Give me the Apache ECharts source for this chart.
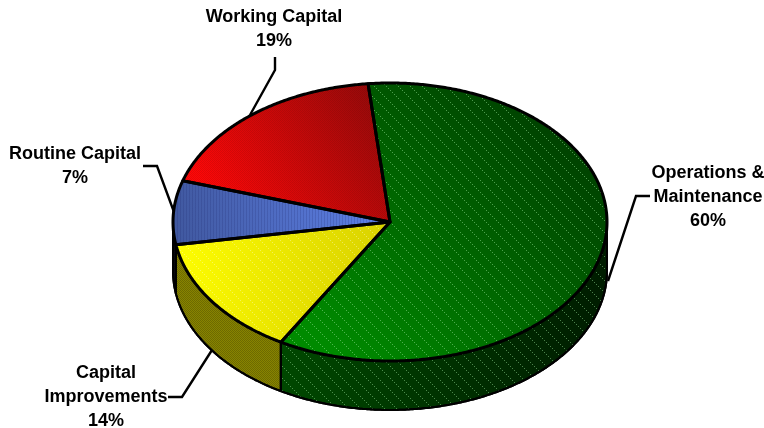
<!DOCTYPE html>
<html><head><meta charset="utf-8">
<style>html,body{margin:0;padding:0;background:#fff}#c{width:764px;height:428px}</style>
<script src="https://cdn.jsdelivr.net/npm/echarts@6/dist/echarts.min.js"></script>
</head><body><div id="c"></div>
<script>
const categories = ['Operations &\nMaintenance', 'Capital\nImprovements', 'Routine Capital', 'Working Capital'];
const shares = [60, 14, 7.4, 18.6];
const firstSliceStartDeg = -5.8;

// layout of the tilted pie
const CX = 390, CY = 222, RX = 217, RY = 139, DEPTH = 49;
const labelPos = [[708, 197], [106, 397], [75, 166], [274, 29]];
const leaders = [
  [[650, 196], [636, 196], [608, 281]],
  [[168, 397], [182, 397], [212, 350]],
  [[143, 166], [157, 166], [174, 212]],
  [[275, 57], [275, 70], [250, 115]]
];

function tile(w, h, paint) {
  const c = document.createElement('canvas');
  c.width = w; c.height = h;
  paint(c.getContext('2d'));
  return { image: c, repeat: 'repeat' };
}
function diag(size, color, step) {
  return tile(size, size, g => {
    g.fillStyle = color;
    for (let i = 0; i < size; i += step) g.fillRect(i, i, 1, 1);
  });
}
function checker(color) {
  return tile(2, 2, g => { g.fillStyle = color; g.fillRect(0, 0, 1, 1); g.fillRect(1, 1, 1, 1); });
}
function lin(x, y, x2, y2, a, b) {
  return { type: 'linear', x, y, x2, y2, colorStops: [{ offset: 0, color: a }, { offset: 1, color: b }] };
}
const looks = [
  { top: lin(0.2, 1, 0.9, 0.1, '#008a00', '#003c00'), topHatch: diag(12, 'rgba(150,230,150,.5)', 2),
    side: lin(0, 0, 1, 0, '#004800', '#001c00'), sideHatch: diag(12, 'rgba(150,220,150,.5)', 2) },
  { top: lin(0, 0, 1, 0.3, '#ffff00', '#d8d000'), topHatch: diag(10, 'rgba(255,255,210,.4)', 2),
    side: '#888400', sideHatch: checker('rgba(40,40,0,.28)') },
  { top: lin(0, 0.6, 1, 0.2, '#40589f', '#5f82ea'), topHatch: tile(3, 3, g => { g.fillStyle = 'rgba(30,40,110,.2)'; g.fillRect(0, 0, 1, 3); }),
    side: '#0c0c14', sideHatch: checker('rgba(0,0,0,.25)') },
  { top: lin(0.15, 0.85, 1, 0, '#ff0808', '#8e0a0a'), topHatch: checker('rgba(60,0,0,.12)'),
    side: '#800000', sideHatch: checker('rgba(40,0,0,.25)') }
];

const total = shares.reduce((a, b) => a + b, 0);
const rad = d => d * Math.PI / 180;
const px = d => CX + RX * Math.sin(rad(d));
const py = d => CY - RY * Math.cos(rad(d));

function renderSlice(params, api) {
  const i = params.dataIndex;
  let start = firstSliceStartDeg;
  for (let k = 0; k < i; k++) start += shares[k] / total * 360;
  const end = start + api.value(0) / total * 360;
  const look = looks[i];
  const top = [[CX, CY]];
  for (let d = start; d < end; d += 0.5) top.push([px(d), py(d)]);
  top.push([px(end), py(end)]);
  const kids = [];

  // outer wall: the part of the rim that faces the viewer
  const a = Math.max(start, 90), b = Math.min(end, 270);
  if (b > a) {
    const wall = [];
    for (let d = a; d < b; d += 0.5) wall.push([px(d), py(d)]);
    wall.push([px(b), py(b)]);
    for (let j = wall.length - 1; j >= 0; j--) wall.push([wall[j][0], wall[j][1] + DEPTH]);
    kids.push({ type: 'polygon', z2: 1, shape: { points: wall }, style: { fill: look.side, stroke: '#000', lineWidth: 2, lineJoin: 'round' } });
    kids.push({ type: 'polygon', z2: 2, shape: { points: wall }, style: { fill: look.sideHatch, stroke: null } });
    kids.push({ type: 'polygon', z2: 3, shape: { points: wall }, style: { fill: 'none', stroke: '#000', lineWidth: 2, lineJoin: 'round' } });
  }
  kids.push({ type: 'polygon', z2: 4, shape: { points: top }, style: { fill: look.top, stroke: null } });
  kids.push({ type: 'polygon', z2: 5, shape: { points: top }, style: { fill: look.topHatch, stroke: null } });
  kids.push({ type: 'polygon', z2: 6, shape: { points: top }, style: { fill: 'none', stroke: '#000', lineWidth: 3, lineJoin: 'round' } });

  kids.push({ type: 'polyline', z2: 7, shape: { points: leaders[i] }, style: { fill: 'none', stroke: '#000', lineWidth: 2.4 } });
  kids.push({ type: 'text', z2: 8, style: {
    text: categories[i] + '\n' + Math.round(api.value(0) / total * 100) + '%',
    x: labelPos[i][0], y: labelPos[i][1], align: 'center', verticalAlign: 'middle',
    font: 'bold 18px "Liberation Sans", Arial, sans-serif', lineHeight: 24, fill: '#000'
  } });
  return { type: 'group', children: kids };
}

const chart = echarts.init(document.getElementById('c'), null, { renderer: 'canvas' });
chart.setOption({
  animation: false,
  backgroundColor: '#fff',
  tooltip: { show: false },
  series: [{ type: 'custom', coordinateSystem: 'none', silent: true, clip: false,
    data: shares, renderItem: renderSlice }]
});
</script></body></html>
